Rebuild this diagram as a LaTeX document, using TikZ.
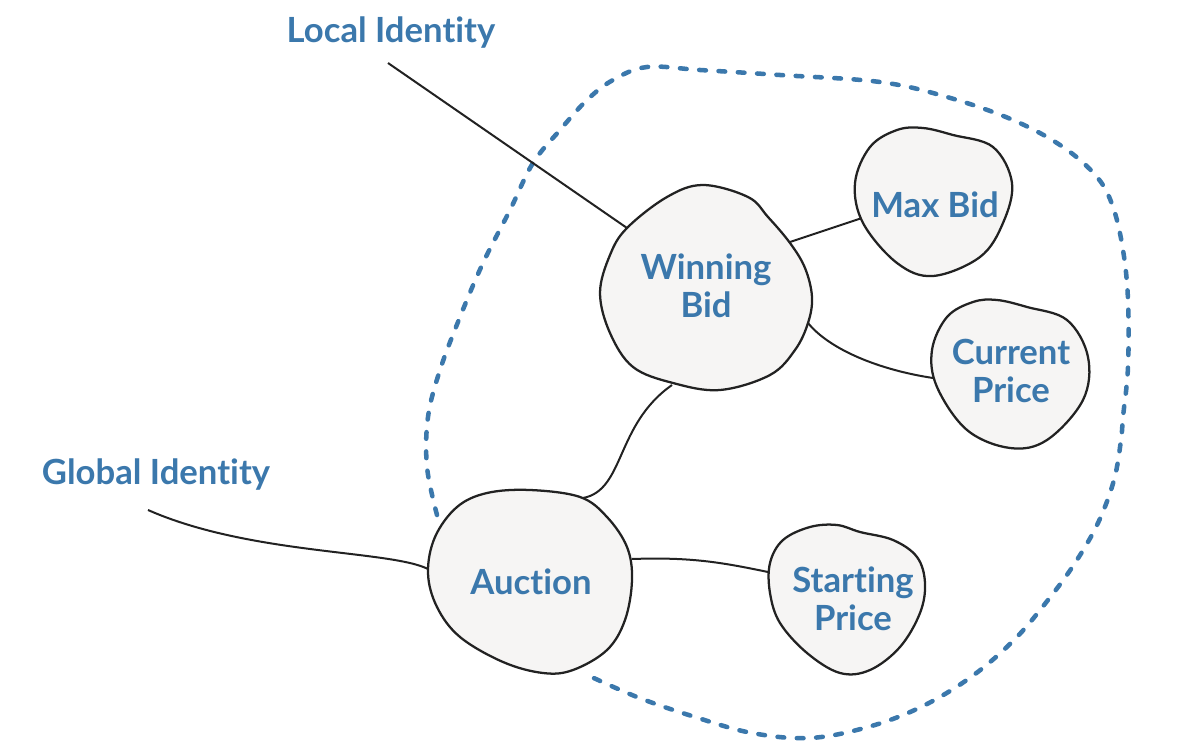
\documentclass[tikz,border=0pt]{standalone}
\usepackage{fontspec}
\setmainfont{Lato}[Ligatures=NoCommon]
\definecolor{idblue}{HTML}{3B78AC}
\definecolor{blobfill}{HTML}{F6F5F4}
\definecolor{inkline}{HTML}{222222}
\tikzset{
  blob/.style={draw=inkline, fill=blobfill, line width=1.7pt},
  link/.style={draw=inkline, line width=1.5pt},
  boundary/.style={draw=idblue, line width=3.4pt, line cap=round, dash pattern=on 5pt off 9.5pt},
  label/.style={text=idblue, font=\fontsize{26}{28.5}\selectfont\bfseries, align=center, inner sep=0pt}
}
\begin{document}
\begin{tikzpicture}[x=0.75pt, y=-0.75pt]
  \useasboundingbox (0,0) rectangle (1189,742);
  % aggregate boundary
  \draw[boundary] plot[smooth, tension=0.6] coordinates {
    (437,515) (427,467) (428,417) (440,370) (460,317) (483,263) (510,210)
    (533,163) (560,130) (587,100) (613,80) (647,67) (700,70) (780,75)
    (880,82) (947,97) (1013,120) (1063,147) (1097,177) (1113,207) (1123,250)
    (1128,300) (1128,367) (1123,417) (1121,440) (1114,480) (1098,523)
    (1075,563) (1048,600) (1014,640) (971,677) (921,707) (868,727)
    (810,738) (752,733) (695,717) (637,697) (583,673)};
  % connector ends
  \coordinate (loc-end) at (388,63);
  \coordinate (glob-end) at (148,510);
  \coordinate (wb-nw) at (627,228);
  \coordinate (wb-ne) at (787,243);
  \coordinate (wb-se) at (808,323);
  \coordinate (wb-s) at (672,385);
  \coordinate (auc-n) at (583,498);
  \coordinate (auc-w) at (428,569);
  \coordinate (auc-e) at (632,559);
  \coordinate (mb-w) at (862,218);
  \coordinate (cp-w) at (933,378);
  \coordinate (sp-w) at (768,572);
  \begin{scope}[link]
    \draw (loc-end) -- (wb-nw);
    \draw (glob-end) .. controls (250,555) and (390,550) .. (auc-w);
    \draw (wb-ne) -- (mb-w);
    \draw (wb-se) .. controls (830,350) and (880,370) .. (cp-w);
    \draw (wb-s) .. controls (615,425) and (625,490) .. (auc-n);
    \draw (auc-e) .. controls (690,557) and (720,562) .. (sp-w);
  \end{scope}
  % entities and value objects
  \draw[blob] plot[smooth cycle, tension=0.6] coordinates {
    (703,185) (748,197) (768,217) (790,243) (805,268) (812,297) (808,323)
    (795,350) (770,375) (720,390) (673,383) (633,367) (610,333) (600,293)
    (610,255) (627,228) (667,197)};
  \draw[blob] plot[smooth cycle, tension=0.6] coordinates {
    (530,490) (580,497) (607,517) (627,547) (632,580) (625,620) (607,650)
    (573,670) (543,673) (503,662) (460,637) (437,607) (428,573) (435,537)
    (457,507) (487,493)};
  \draw[blob] plot[smooth cycle, tension=0.6] coordinates {
    (923,128) (953,135) (993,147) (1012,183) (1003,223) (980,257) (933,276)
    (897,263) (863,223) (855,183) (870,147) (897,130)};
  \draw[blob] plot[smooth cycle, tension=0.6] coordinates {
    (997,300) (1027,307) (1067,320) (1088,357) (1083,400) (1047,440)
    (1010,448) (967,430) (937,387) (932,350) (947,317) (973,302)};
  \draw[blob] plot[smooth cycle, tension=0.6] coordinates {
    (837,525) (860,532) (893,540) (917,557) (925,583) (920,613) (900,647)
    (870,670) (840,673) (807,653) (780,623) (770,593) (770,563) (783,540)
    (810,527)};
  % labels
  \node[label] (loc) at (391,33) {Local Identity};
  \node[label] (glob) at (156,475) {Global Identity};
  \node[label] (wb) at (706,286) {Winning\\Bid};
  \node[label] (mb) at (935,205) {Max Bid};
  \node[label] (cp) at (1011,371) {Current\\Price};
  \node[label] (auc) at (531,582) {Auction};
  \node[label] (sp) at (853,599) {Starting\\Price};
\end{tikzpicture}
\end{document}
